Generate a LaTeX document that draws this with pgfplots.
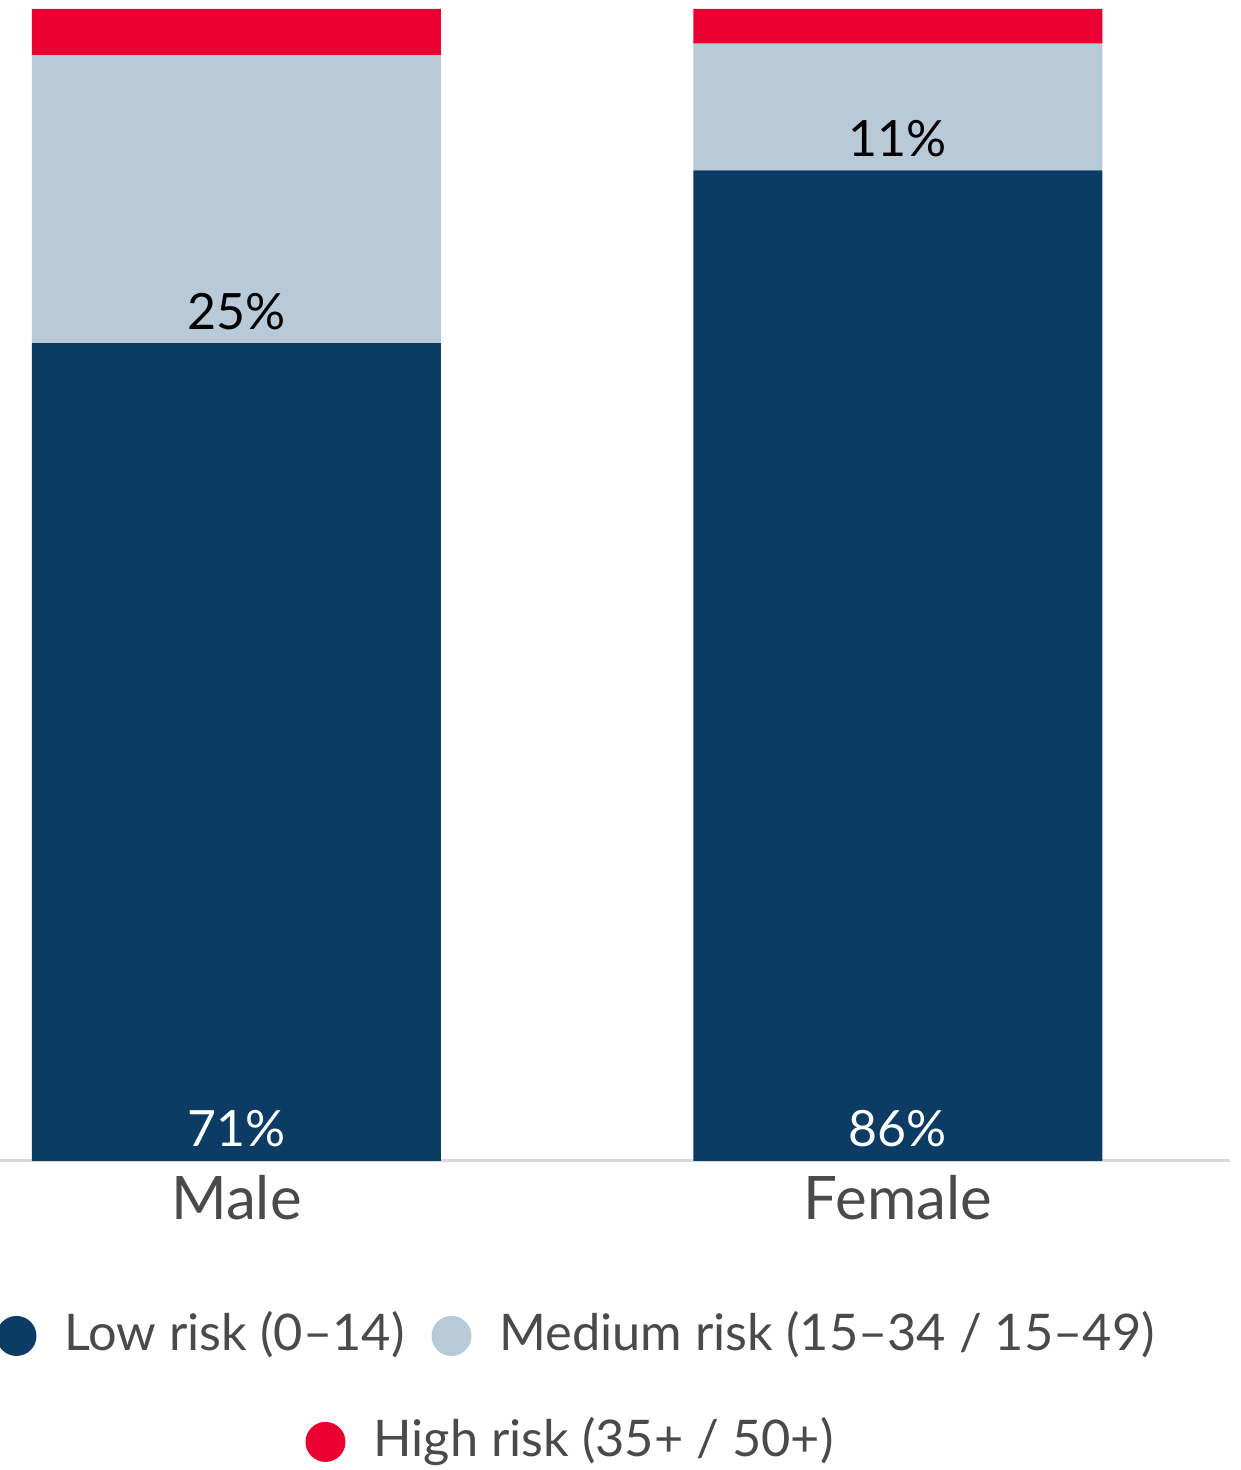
\documentclass[border=0pt]{standalone}
\usepackage{pgfplots}
\pgfplotsset{compat=1.18}
\usepackage{fontspec}
\setmainfont{Lato}

\definecolor{lowrisk}{HTML}{0C3B63}
\definecolor{medrisk}{HTML}{B8C9D8}
\definecolor{highrisk}{HTML}{EA0030}
\definecolor{txtgray}{HTML}{4A4A4A}
\definecolor{axisgray}{HTML}{D9D9D9}

\pgfplotsset{
  dotlegend/.style={legend image code/.code={\fill (4pt,-0.2pt) circle (4pt);}},
  riskframe/.style={
    at={(0,0)}, anchor=south west,
    scale only axis, width=246pt, height=230.4pt,
    xmin=-0.3575, xmax=1.502, ymin=0, ymax=100,
  },
  risklegend/.style={
    legend style={
      draw=none, fill=none, inner sep=0pt, outer sep=0pt,
      font=\fontsize{10.1}{12}\selectfont, text=txtgray,
      nodes={inner sep=0pt},
      /tikz/every odd column/.style={column sep=5.6pt},
      /tikz/every even column/.style={column sep=5.4pt},
    },
  },
  sharelabel/.style={
    draw=none, mark=none, forget plot,
    nodes near coords, point meta=explicit symbolic,
    every node near coord/.append style={
      anchor=base, yshift=2.8pt, inner sep=0pt,
      font=\fontsize{10}{12}\selectfont, text=#1},
  },
}

\begin{document}
\begin{tikzpicture}
% stacked shares per sex
\begin{axis}[
  riskframe,
  ybar stacked, bar width=81.8pt,
  axis x line*=bottom, axis y line=none,
  x axis line style={axisgray, line width=0.6pt},
  xtick={0,1}, xticklabels={Male,Female},
  major tick length=0pt, ytick=\empty,
  xticklabel style={font=\fontsize{12}{14}\selectfont, text=txtgray, anchor=base, yshift=-11.8pt},
  risklegend,
  legend columns=2,
  legend style={at={(0.468,-0.151)}, anchor=center},
  clip=false,
]
\addplot[fill=lowrisk, draw=none, dotlegend] coordinates {(0,71) (1,86)};
\addplot[fill=medrisk, draw=none, dotlegend] coordinates {(0,25) (1,11)};
\addplot[fill=highrisk, draw=none, dotlegend] coordinates {(0,4) (1,3)};
\legend{Low risk (0–14), Medium risk (15–34 / 15–49)}
\end{axis}

% share labels at the foot of each segment, plus the second legend row
\begin{axis}[
  riskframe, hide axis, clip=false,
  risklegend,
  legend style={at={(0.463,-0.243)}, anchor=center},
]
\addlegendimage{fill=highrisk, draw=none, dotlegend}
\addlegendentry{High risk (35+ / 50+)}
\addplot[sharelabel=white] coordinates {(0,0) [71\%] (1,0) [86\%]};
\addplot[sharelabel=black] coordinates {(0,71) [25\%] (1,86) [11\%]};
\end{axis}

\pgfresetboundingbox
\path[use as bounding box] (0pt,-61.8pt) rectangle (248.2pt,232.2pt);
\end{tikzpicture}
\end{document}
